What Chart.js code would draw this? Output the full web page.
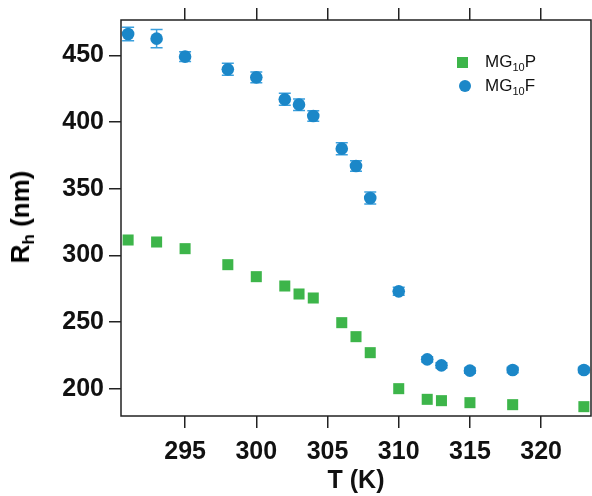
<!DOCTYPE html>
<html>
<head>
<meta charset="utf-8">
<script src="https://cdn.jsdelivr.net/npm/chart.js@4.4.1/dist/chart.umd.min.js"></script>
<style>
  body { margin: 0; background: #fff; }
  #wrap { position: relative; width: 592px; height: 496px; }
  #ytitle {
    position: absolute; left: 22px; top: 217px;
    transform: translate(-50%, -50%) rotate(-90deg);
    font: bold 26px "Liberation Sans", Arial, sans-serif; white-space: nowrap;
  }
  #ytitle sub { font-size: 17px; vertical-align: -5px; }
  #legend {
    position: absolute; left: 455px; top: 50px;
    font: 17px "Liberation Sans", Arial, sans-serif; color: #111;
  }
  .row { height: 24px; display: flex; align-items: center; }
  .mk { width: 14px; display: inline-block; margin-right: 16px; }
  .sq { width: 11px; height: 11px; background: #3db54a; margin-left: 2px; margin-right: 17px; }
  .ci { width: 12px; height: 12px; border-radius: 50%; background: #1b87c8; margin-left: 4px; margin-right: 14px; }
  #legend sub { font-size: 11px; vertical-align: -4px; }
</style>
</head>
<body>
<div id="wrap">
  <canvas id="chart" width="592" height="496"></canvas>
  <div id="ytitle">R<sub>h</sub> (nm)</div>
  <div id="legend">
    <div class="row"><span class="mk sq"></span><span>MG<sub>10</sub>P</span></div>
    <div class="row"><span class="mk ci"></span><span>MG<sub>10</sub>F</span></div>
  </div>
</div>
<script>
// Data ======================================
var temps = [291, 293, 295, 298, 300, 302, 303, 304, 306, 307, 308, 310, 312, 313, 315, 318, 323];
var rhP = [311.5, 310, 305, 293, 284, 277, 271, 268, 249.5, 239, 227, 200, 192, 191, 189.5, 188, 186.5];
var rhF = [466, 462.5, 449, 439.5, 433.5, 417, 413, 404.5, 380, 367, 343, 273, 222, 217.5, 213.5, 214, 214];
var errF = [5, 6.8, 3.7, 4.5, 4, 4.5, 4.3, 4, 4.5, 4, 4.5, 3, 2, 2, 2, 2, 2];
var xTicks = [295, 300, 305, 310, 315, 320];
var yTicks = [200, 250, 300, 350, 400, 450];

const green = "#3db54a";
const blue = "#1b87c8";
const errColor = "#3a9fdd";
const font = { family: "'Liberation Sans', Arial, sans-serif", size: 25, weight: "bold" };

// Error bars plugin =========================
const errorBars = {
  id: "errorBars",
  beforeDatasetsDraw(chart) {
    const { ctx, scales: { x, y } } = chart;
    ctx.save();
    ctx.strokeStyle = errColor;
    ctx.lineWidth = 1.5;
    for (let i = 0; i < temps.length; i++) {
      const px = x.getPixelForValue(temps[i]);
      const top = y.getPixelForValue(rhF[i] + errF[i]);
      const bot = y.getPixelForValue(rhF[i] - errF[i]);
      ctx.beginPath();
      ctx.moveTo(px, top); ctx.lineTo(px, bot);
      ctx.moveTo(px - 6, top); ctx.lineTo(px + 6, top);
      ctx.moveTo(px - 6, bot); ctx.lineTo(px + 6, bot);
      ctx.stroke();
    }
    ctx.restore();
  },
};

// Frame plugin ==============================
const frame = {
  id: "frame",
  afterDraw(chart) {
    const { ctx, chartArea: a } = chart;
    ctx.save();
    ctx.strokeStyle = "#222";
    ctx.lineWidth = 1.5;
    ctx.strokeRect(a.left, a.top, a.right - a.left, a.bottom - a.top);
    ctx.restore();
  },
};

function keepTicks(list) {
  return function (scale) {
    scale.ticks = list.map((v) => ({ value: v }));
  };
}

function fitHeight(h) {
  return function (scale) {
    scale.height = h;
    scale.paddingLeft = 0;
    scale.paddingRight = 0;
  };
}

new Chart(document.getElementById("chart"), {
  type: "scatter",
  data: {
    datasets: [
      {
        label: "MG10P",
        data: temps.map((t, i) => ({ x: t, y: rhP[i] })),
        pointStyle: "rect",
        pointRadius: 7.8,
        backgroundColor: green,
        borderWidth: 0,
        clip: false,
      },
      {
        label: "MG10F",
        data: temps.map((t, i) => ({ x: t, y: rhF[i] })),
        pointStyle: "circle",
        pointRadius: 6.3,
        backgroundColor: blue,
        borderWidth: 0,
        clip: false,
      },
    ],
  },
  options: {
    responsive: false,
    animation: false,
    layout: { autoPadding: false, padding: { right: 1, top: 0, left: 0, bottom: 0 } },
    plugins: { legend: { display: false }, tooltip: { enabled: false } },
    scales: {
      x: {
        type: "linear",
        position: "bottom",
        min: 290.5,
        max: 323.5,
        afterBuildTicks: keepTicks(xTicks),
        afterFit: fitHeight(80),
        grid: { drawOnChartArea: false, tickLength: 12, color: "#222", lineWidth: 1.5 },
        border: { display: false },
        ticks: { color: "#111", font: font, padding: 9, maxRotation: 0 },
        title: { display: true, text: "T (K)", color: "#111", font: font, padding: { top: 5, bottom: 0 } },
      },
      x2: {
        type: "linear",
        position: "top",
        min: 290.5,
        max: 323.5,
        afterBuildTicks: keepTicks(xTicks),
        afterFit: fitHeight(20),
        grid: { drawOnChartArea: false, tickLength: 12, color: "#222", lineWidth: 1.5 },
        border: { display: false },
        ticks: { display: false },
      },
      y: {
        type: "linear",
        min: 179.5,
        max: 476.5,
        afterBuildTicks: keepTicks(yTicks),
        afterFit(scale) { scale.width = 121; },
        grid: { drawOnChartArea: false, tickLength: 12, color: "#222", lineWidth: 1.5 },
        border: { display: false },
        ticks: { color: "#111", font: font, padding: 5 },
      },
    },
  },
  plugins: [errorBars, frame],
});
</script>
</body>
</html>
